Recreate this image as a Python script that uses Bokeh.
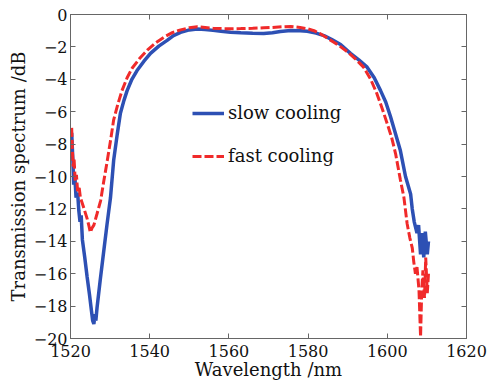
from bokeh.plotting import figure
from bokeh.models import LinearAxis, Range1d, Legend, LegendItem, FixedTicker
from bokeh.embed import file_html
from bokeh.resources import INLINE

# ---- data ----
wl_slow = [1520.3, 1520.6, 1520.8, 1521.1, 1521.4, 1521.8, 1522.1, 1522.4, 1522.7, 1523.0,
           1523.6, 1524.2, 1524.8, 1525.3, 1525.6, 1525.9, 1526.2, 1526.4, 1526.7, 1527.5,
           1528.4, 1529.2, 1530.1, 1530.9, 1531.8, 1532.6, 1533.5, 1534.3, 1535.5, 1536.8,
           1538.5, 1540.2, 1542.3, 1544.4, 1546.0, 1547.8, 1550.0, 1552.0, 1554.0, 1556.0,
           1558.0, 1560.4, 1563.0, 1566.0, 1568.8, 1571.0, 1573.0, 1575.6, 1578.0, 1579.8,
           1582.0, 1584.0, 1586.0, 1588.2, 1590.7, 1592.8, 1594.9, 1596.7, 1598.3, 1599.6,
           1600.8, 1602.0, 1603.3, 1604.6, 1605.9, 1606.3, 1606.8, 1607.5, 1607.9, 1608.4,
           1608.8, 1609.2, 1609.6, 1610.1, 1610.4]
tr_slow = [-7.3, -9.0, -10.5, -10.0, -11.3, -11.0, -12.1, -12.8, -12.4, -13.9,
           -15.0, -16.2, -17.3, -18.3, -18.9, -19.1, -18.5, -18.9, -18.1, -16.4,
           -14.6, -13.0, -11.3, -9.0, -7.4, -6.1, -5.3, -4.7, -4.0, -3.46,
           -2.9, -2.4, -1.95, -1.6, -1.3, -1.1, -0.95, -0.9, -0.92, -0.98,
           -1.03, -1.09, -1.12, -1.15, -1.17, -1.12, -1.05, -0.99, -1.0, -1.03,
           -1.15, -1.3, -1.55, -1.85, -2.4, -2.8, -3.25, -3.9, -4.7, -5.4,
           -6.3, -7.3, -8.4, -10.0, -11.1, -12.0, -12.8, -13.5, -13.0, -14.8,
           -13.5, -15.0, -13.4, -14.8, -14.0]

wl_fast = [1520.3, 1520.5, 1520.7, 1520.9, 1521.2, 1521.5, 1521.8, 1522.2, 1522.5, 1523.3,
           1524.2, 1524.7, 1525.0, 1525.4, 1525.9, 1526.7, 1527.6, 1528.4, 1529.3, 1530.1,
           1530.9, 1532.0, 1533.0, 1534.3, 1535.6, 1537.5, 1539.4, 1541.5, 1543.6, 1545.7,
           1547.8, 1550.0, 1552.0, 1554.0, 1556.0, 1558.0, 1560.4, 1563.0, 1566.0, 1568.8,
           1571.0, 1573.5, 1575.6, 1578.0, 1579.8, 1581.5, 1583.1, 1584.5, 1586.4, 1588.0,
           1589.9, 1592.0, 1594.0, 1595.8, 1597.4, 1598.7, 1600.0, 1601.1, 1602.1, 1603.3,
           1604.2, 1605.0, 1605.7, 1606.3, 1606.7, 1607.1, 1607.5, 1608.0, 1608.4, 1608.7,
           1609.0, 1609.4, 1609.7, 1610.1, 1610.4]
tr_fast = [-7.0, -8.5, -9.4, -8.9, -10.3, -9.9, -10.9, -10.7, -11.3, -11.9,
           -12.6, -13.1, -13.45, -13.2, -13.0, -12.3, -11.5, -10.3, -9.0, -7.8,
           -6.5, -5.5, -4.7, -3.9, -3.3, -2.7, -2.2, -1.75, -1.4, -1.12,
           -0.95, -0.82, -0.76, -0.8, -0.85, -0.87, -0.88, -0.87, -0.85, -0.82,
           -0.8, -0.76, -0.74, -0.8, -0.88, -1.0, -1.19, -1.4, -1.7, -1.95,
           -2.3, -2.75, -3.25, -4.0, -4.9, -5.8, -6.75, -7.6, -8.6, -10.2,
           -11.3, -12.9, -13.8, -14.4, -15.3, -16.0, -15.6, -17.0, -19.9, -17.0,
           -15.8, -17.5, -15.0, -17.2, -16.0]

x_ticks = [1520, 1540, 1560, 1580, 1600, 1620]
y_ticks = [0, -2, -4, -6, -8, -10, -12, -14, -16, -18, -20]
x_label = "Wavelength /nm"
y_label = "Transmission spectrum /dB"
series_names = ["slow cooling", "fast cooling"]

FONT = "DejaVu Serif"
AX = "#666666"

p = figure(width=489, height=382, output_backend="svg", toolbar_location=None,
           x_range=Range1d(1520, 1620), y_range=Range1d(-20, 0),
           min_border_left=70, min_border_right=23, min_border_top=14, min_border_bottom=44)
p.grid.visible = False
p.outline_line_color = AX
p.outline_line_width = 1
p.background_fill_color = "white"
p.border_fill_color = "white"

r_slow = p.line(wl_slow, tr_slow, line_color="#2d50b4", line_width=3.5)
r_fast = p.line(wl_fast, tr_fast, line_color="#f02a2a", line_width=3, line_dash="9 3")

def style(ax, labels=True):
    ax.axis_line_color = AX
    ax.major_tick_line_color = AX
    ax.major_tick_in = 5
    ax.major_tick_out = 0
    ax.minor_tick_line_color = None
    ax.major_label_text_font = FONT
    ax.axis_label_text_font = FONT
    ax.axis_label_text_font_style = "normal"
    ax.axis_label_text_color = "#111111"
    ax.axis_label_text_font_size = "18px"
    if labels:
        ax.major_label_text_font_size = "16px"
        ax.major_label_text_color = "#111111"
    else:
        ax.major_label_text_font_size = "0px"
        ax.major_label_text_color = None

xa = p.xaxis[0]
ya = p.yaxis[0]
xa.ticker = FixedTicker(ticks=x_ticks)
ya.ticker = FixedTicker(ticks=y_ticks)
ya.major_label_overrides = {t: str(t).replace("-", "\u2212") for t in y_ticks}
xa.axis_label = x_label
ya.axis_label = y_label
style(xa)
style(ya)
xa.major_label_standoff = 6
xa.axis_label_standoff = -1
ya.major_label_standoff = 3
ya.axis_label_standoff = 2

top = LinearAxis(ticker=FixedTicker(ticks=x_ticks))
right = LinearAxis(ticker=FixedTicker(ticks=y_ticks))
style(top, labels=False)
style(right, labels=False)
p.add_layout(top, "above")
p.add_layout(right, "right")

legend = Legend(items=[LegendItem(label=series_names[0], renderers=[r_slow]),
                       LegendItem(label=series_names[1], renderers=[r_fast])],
                location=(120, 170))
legend.border_line_alpha = 0
legend.background_fill_alpha = 0
legend.label_text_font = FONT
legend.label_text_font_size = "18px"
legend.label_text_color = "#111111"
legend.glyph_width = 32
legend.glyph_height = 20
legend.label_height = 20
legend.label_standoff = 4
legend.spacing = 22
legend.padding = 2
legend.margin = 0
p.add_layout(legend, "center")

open("out.html", "w").write(file_html(p, INLINE))
